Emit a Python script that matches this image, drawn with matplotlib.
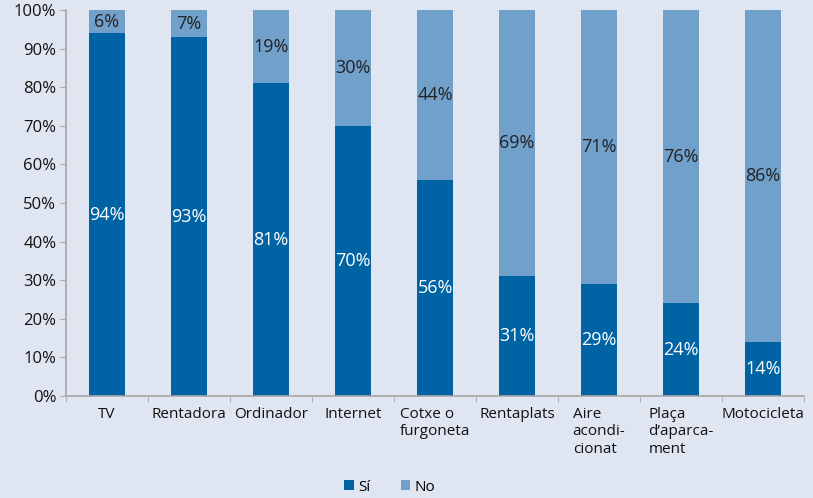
import matplotlib.pyplot as plt
import numpy as np
from matplotlib.ticker import FuncFormatter, FixedLocator

plt.rcParams['font.family'] = ['Open Sans', 'DejaVu Sans']

categories = ["TV", "Rentadora", "Ordinador", "Internet", "Cotxe o\nfurgoneta",
              "Rentaplats", "Aire\nacondi-\ncionat", "Plaça\nd’aparca-\nment", "Motocicleta"]
si_values = [94, 93, 81, 70, 56, 31, 29, 24, 14]
no_values = [6, 7, 19, 30, 44, 69, 71, 76, 86]

bg = '#dfe6f1'
dark = '#0064a4'
light = '#71a0cb'
axis_grey = '#a6a6a6'

fig = plt.figure(figsize=(8.13, 4.98), dpi=100, facecolor=bg)
ax = fig.add_axes([66 / 813, 1 - 396 / 498, 738 / 813, 386 / 498], facecolor=bg)

x = np.arange(len(categories))
w = 0.45
ax.bar(x, si_values, w, color=dark, label='Sí', zorder=2)
ax.bar(x, no_values, w, bottom=si_values, color=light, label='No', zorder=2)

for xi, s, n in zip(x, si_values, no_values):
    ax.text(xi, s / 2, f"{s}%", ha='center', va='center', color='white', fontsize=13)
    ax.text(xi, s + n / 2, f"{n}%", ha='center', va='center', color='#222222', fontsize=13)

ax.set_xlim(-0.5, len(categories) - 0.5)
ax.set_ylim(0, 100)
ax.set_yticks(np.arange(0, 101, 10))
ax.yaxis.set_major_formatter(FuncFormatter(lambda v, p: f"{int(v)}%"))
ax.set_xticks(x)
ax.set_xticklabels(categories, multialignment='left', fontsize=11, color='#111111')
ax.xaxis.set_minor_locator(FixedLocator(np.arange(-0.5, len(categories), 1)))
ax.tick_params(axis='x', which='major', length=0, pad=8)
ax.tick_params(axis='x', which='minor', length=4, color=axis_grey)
ax.tick_params(axis='y', length=4, color=axis_grey, labelsize=12, labelcolor='#111111', pad=3)

for side in ['top', 'right']:
    ax.spines[side].set_visible(False)
for side in ['left', 'bottom']:
    ax.spines[side].set_color(axis_grey)
    ax.spines[side].set_linewidth(1.2)

leg = fig.legend(loc='center', bbox_to_anchor=(390 / 813, 1 - 487 / 498), ncol=2,
                 frameon=False, fontsize=11, handlelength=0.6, handleheight=0.6,
                 handletextpad=0.3, columnspacing=2.0)

fig.savefig('out.png', dpi=100, facecolor=bg)
